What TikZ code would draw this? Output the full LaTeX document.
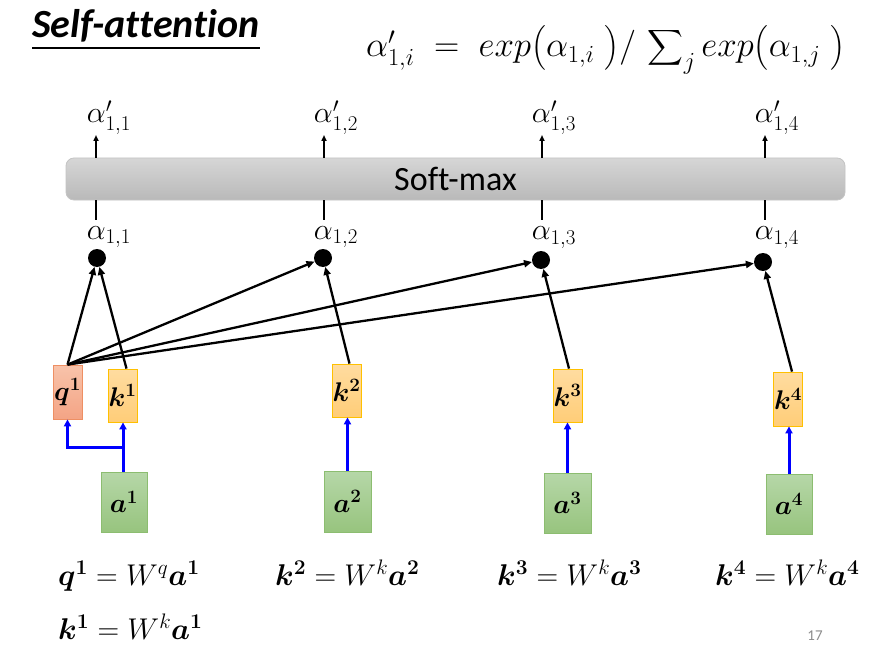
\RequirePackage{fix-cm}
\documentclass[tikz,border=0pt]{standalone}
\usepackage{amsmath,bm}
\usepackage[no-math]{fontspec}
\setmainfont{Carlito}[Ligatures=NoCommon]
\usetikzlibrary{arrows.meta}
\definecolor{qtop}{HTML}{F8C3AA}
\definecolor{qbot}{HTML}{F4A485}
\definecolor{qline}{HTML}{EE8F63}
\definecolor{ktop}{HTML}{FFDCA0}
\definecolor{kbot}{HTML}{FFCD78}
\definecolor{kline}{HTML}{FFC000}
\definecolor{atop}{HTML}{B6D7A8}
\definecolor{abot}{HTML}{97C47E}
\definecolor{aline}{HTML}{8CBD70}
\definecolor{smtop}{HTML}{D6D6D6}
\definecolor{smbot}{HTML}{B9B9B9}
\definecolor{smline}{HTML}{C4C4C4}
\definecolor{pgnum}{HTML}{8C8C8C}
\tikzset{
  vbox/.style={inner sep=0pt, font=\fontsize{27}{27}\selectfont},
  qbox/.style={vbox, draw=qline, line width=0.8pt, top color=qtop, bottom color=qbot, minimum width=29pt, minimum height=54pt},
  kbox/.style={vbox, draw=kline, line width=0.8pt, top color=ktop, bottom color=kbot, minimum width=29pt, minimum height=53pt},
  abox/.style={vbox, draw=aline, line width=0.8pt, top color=atop, bottom color=abot, minimum width=46pt, minimum height=60pt},
  dotnode/.style={circle, fill=black, minimum size=18pt, inner sep=0pt},
  lab/.style={inner sep=0pt, anchor=base, font=\fontsize{30}{30}\selectfont},
  eqn/.style={inner sep=0pt, anchor=base west, font=\fontsize{30}{30}\selectfont},
  conn/.style={line width=2.3pt, -{Triangle[length=8pt,width=7pt]}},
  inarrow/.style={line width=3pt, blue, -{Triangle[length=7pt,width=7pt]}},
  uparrow/.style={line width=2pt, -{Triangle[length=6pt,width=5pt]}},
  downline/.style={line width=2.5pt},
}
\begin{document}
\begin{tikzpicture}[x=1pt,y=-1pt]
\useasboundingbox (0,0) rectangle (892,658);
\fill[white] (0,0) rectangle (892,658);

% title
\node[inner sep=0pt, anchor=base west, font=\fontsize{40}{40}\selectfont\bfseries\itshape] (title) at (32,38) {Self-attention};
\draw[line width=2pt] ([yshift=-10pt]title.base west) -- ([yshift=-10pt]title.base east);

% formula
\node[inner sep=0pt, anchor=base west, font=\fontsize{35}{35}\selectfont] (formula) at (366,57)
  {$\alpha'_{1,i}\;=\;exp\big(\alpha_{1,i}\;\big)/\,\displaystyle\sum\nolimits_{j} exp\big(\alpha_{1,j}\;\big)$};

% softmax
\node[draw=smline, line width=0.8pt, top color=smtop, bottom color=smbot, rounded corners=8pt,
      minimum width=779pt, minimum height=42pt, inner sep=0pt, font=\fontsize{34}{34}\selectfont] (sm) at (455.5,179) {Soft-max};

% arrow tips above softmax and line ends below
\coordinate (t1) at (96,135); \coordinate (t2) at (324,135); \coordinate (t3) at (542,135); \coordinate (t4) at (765,135);
\coordinate (b1) at (96,220); \coordinate (b2) at (324,220); \coordinate (b3) at (542,220); \coordinate (b4) at (765,220);
\foreach \i in {1,2,3,4}{
  \draw[uparrow] (sm.north -| t\i) -- (t\i);
  \draw[downline] (sm.south -| b\i) -- (b\i);
}

% alpha' labels
\node[lab] (ap1) at (109,123) {$\alpha'_{1,1}$};
\node[lab] (ap2) at (336,123) {$\alpha'_{1,2}$};
\node[lab] (ap3) at (554,123) {$\alpha'_{1,3}$};
\node[lab] (ap4) at (777,123) {$\alpha'_{1,4}$};

% alpha labels
\node[lab] (al1) at (109,239) {$\alpha_{1,1}$};
\node[lab] (al2) at (336,239) {$\alpha_{1,2}$};
\node[lab] (al3) at (554,240) {$\alpha_{1,3}$};
\node[lab] (al4) at (777,240) {$\alpha_{1,4}$};

% dots
\node[dotnode] (d1) at (97,258) {};
\node[dotnode] (d2) at (323,258) {};
\node[dotnode] (d3) at (541,260) {};
\node[dotnode] (d4) at (763,262) {};

% q, k, a boxes
\node[qbox] (q1) at (67.5,392) {$\bm{q}^{\mathbf{1}}$};
\node[kbox] (k1) at (122.5,395.5) {$\bm{k}^{\mathbf{1}}$};
\node[kbox] (k2) at (346.5,390.5) {$\bm{k}^{\mathbf{2}}$};
\node[kbox] (k3) at (567.5,395.5) {$\bm{k}^{\mathbf{3}}$};
\node[kbox, minimum height=54pt] (k4) at (788,399) {$\bm{k}^{\mathbf{4}}$};
\node[abox] (a1) at (124,502) {$\bm{a}^{\mathbf{1}}$};
\node[abox, minimum width=47pt, minimum height=61pt] (a2) at (347.5,501.5) {$\bm{a}^{\mathbf{2}}$};
\node[abox, minimum width=47pt] (a3) at (567.5,503) {$\bm{a}^{\mathbf{3}}$};
\node[abox] (a4) at (789,504) {$\bm{a}^{\mathbf{4}}$};

% black connectors
\draw[conn] (q1.north) -- (d1);
\draw[conn] (q1.north) -- (d2);
\draw[conn] (q1.north) -- (d3);
\draw[conn] (q1.north) -- (d4);
\draw[conn] ([xshift=4pt]k1.north) -- (d1);
\draw[conn] ([xshift=3pt]k2.north) -- (d2);
\draw[conn] ([xshift=1.5pt]k3.north) -- (d3);
\draw[conn] ([xshift=4pt]k4.north) -- (d4);

% blue input arrows
\coordinate (br) at (123,447);
\draw[inarrow] (a1.north -| br) -- (k1.south -| br);
\draw[inarrow] (br) -- (br -| q1.south) -- (q1.south);
\draw[inarrow] (a2.north) -- (k2.south -| a2.north);
\draw[inarrow] (a3.north) -- (k3.south -| a3.north);
\draw[inarrow] (a4.north) -- (k4.south -| a4.north);

% equations
\node[eqn] (e1) at (58,585) {$\bm{q}^{\mathbf{1}}=W^{q}\bm{a}^{\mathbf{1}}$};
\node[eqn] (e2) at (58,639) {$\bm{k}^{\mathbf{1}}=W^{k}\bm{a}^{\mathbf{1}}$};
\node[eqn] (e3) at (275,585) {$\bm{k}^{\mathbf{2}}=W^{k}\bm{a}^{\mathbf{2}}$};
\node[eqn] (e4) at (497,585) {$\bm{k}^{\mathbf{3}}=W^{k}\bm{a}^{\mathbf{3}}$};
\node[eqn] (e5) at (715,585) {$\bm{k}^{\mathbf{4}}=W^{k}\bm{a}^{\mathbf{4}}$};

% page number
\node[inner sep=0pt, text=pgnum, font=\fontsize{15}{15}\selectfont] (pg) at (815,636) {17};
\end{tikzpicture}
\end{document}
